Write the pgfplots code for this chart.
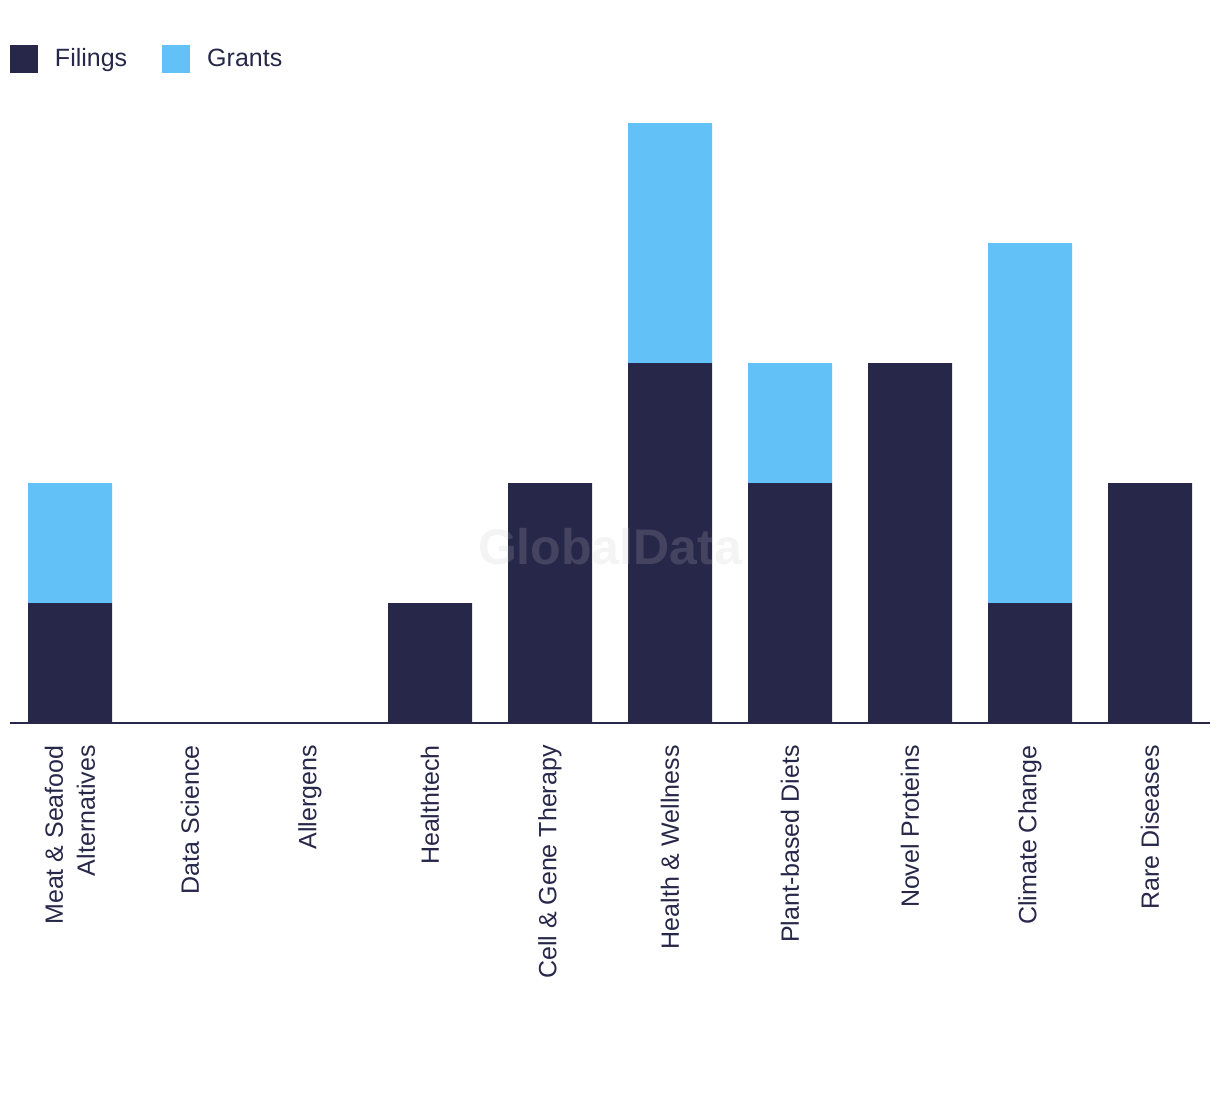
\documentclass[border=0pt]{standalone}
\usepackage{fontspec}
\setmainfont{Liberation Sans}
\usepackage{pgfplots}
\pgfplotsset{compat=1.18}
\definecolor{navy}{HTML}{27274A}
\definecolor{sky}{HTML}{62C2F8}
\begin{document}
\begin{tikzpicture}
\path[use as bounding box] (0,0) rectangle (610pt,-547pt);
\begin{axis}[
  at={(5pt,-361.5pt)}, anchor=south west,
  scale only axis, width=600pt, height=318pt,
  ybar stacked, bar width=42pt,
  xmin=-0.5, xmax=9.5, ymin=0, ymax=5.3,
  axis y line=none, axis x line*=bottom,
  x axis line style={navy, line width=1pt, -},
  xtick=data, major tick length=0pt,
  xticklabels={{Meat \& Seafood\\Alternatives},Data Science,Allergens,Healthtech,Cell \& Gene Therapy,Health \& Wellness,Plant-based Diets,Novel Proteins,Climate Change,Rare Diseases},
  xticklabel style={yshift=-11pt, rotate=90, anchor=east, align=right, inner sep=0pt, font=\fontsize{12.5pt}{16pt}\selectfont, text=navy},
  legend style={draw=none, at={(0,1.044)}, anchor=west, inner sep=0pt, outer sep=0pt,
    legend columns=2, font=\fontsize{12.5pt}{15pt}\selectfont, text=navy,
    nodes={inner sep=0pt},
    /tikz/every odd column/.append style={column sep=8.5pt},
    /tikz/every even column/.append style={column sep=17.5pt}},
  legend image code/.code={\fill[#1] (0pt,-7pt) rectangle (14pt,7pt);},
]
\addplot[fill=navy, draw=none] coordinates {(0,1) (1,0) (2,0) (3,1) (4,2) (5,3) (6,2) (7,3) (8,1) (9,2)};
\addplot[fill=sky, draw=none] coordinates {(0,1) (1,0) (2,0) (3,0) (4,0) (5,2) (6,1) (7,0) (8,3) (9,0)};
\legend{Filings,Grants}
\coordinate (wm) at (axis cs:4.5,1.47);
\end{axis}
\node[font=\fontsize{25pt}{25pt}\selectfont\bfseries, text=black!23, text opacity=0.19] at (wm) {GlobalData};
\end{tikzpicture}
\end{document}
